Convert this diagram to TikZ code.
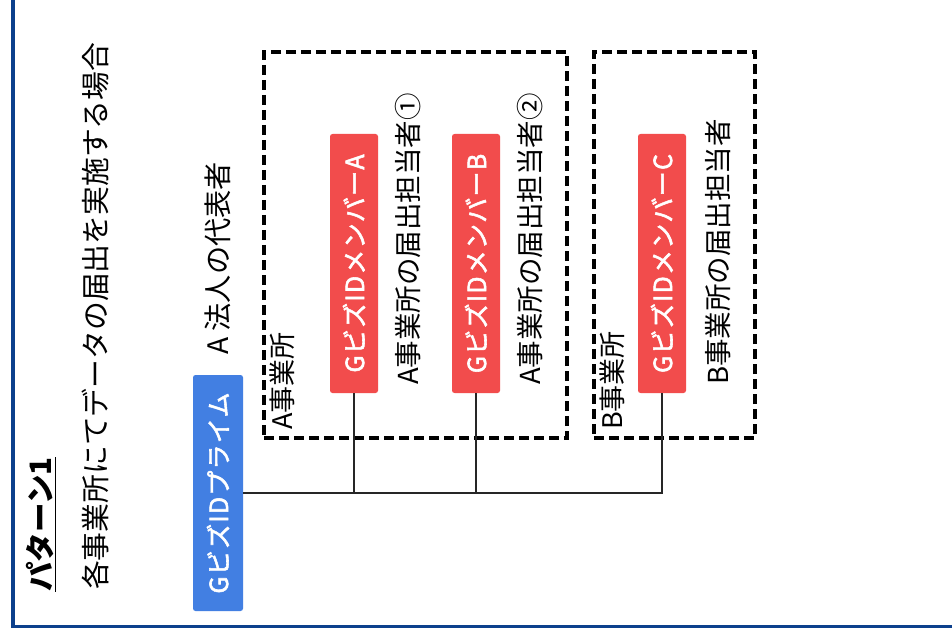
\documentclass[tikz,border=0pt]{standalone}
\usepackage{fontspec}
\setmainfont{Noto Sans CJK JP}
\newfontfamily\boxfont[FakeBold=2.2,LetterSpace=5]{Noto Sans CJK JP}
\definecolor{frameblue}{RGB}{12,64,140}
\definecolor{primeblue}{RGB}{66,127,226}
\definecolor{memberred}{RGB}{242,76,76}
\tikzset{
  lbl/.style={rotate=90, anchor=west, inner sep=0pt, font=\fontsize{27.5}{30}\selectfont},
  grouplbl/.style={rotate=90, anchor=west, inner sep=0pt, font=\fontsize{27}{29}\selectfont},
  idbox/.style={rotate=90, rounded corners=2.5pt, inner sep=0pt, text=white,
     font=\boxfont\fontsize{25}{27}\selectfont},
  primebox/.style={idbox, fill=primeblue, minimum width=236pt, minimum height=50pt},
  memberbox/.style={idbox, fill=memberred, minimum width=259pt, minimum height=48pt},
  groupbox/.style={draw=black, line width=3.2pt, dash pattern=on 10pt off 5pt, inner sep=0pt},
  wire/.style={draw=black!85, line width=1.3pt}
}
\begin{document}
\begin{tikzpicture}[x=1pt,y=-1pt]
\useasboundingbox (0,0) rectangle (952,636);
\fill[white] (0,0) rectangle (952,636);
\draw[frameblue, line width=3.5pt] (13,0) -- (13,626.5) -- (952,626.5);

% titles
\node[rotate=90, anchor=west, inner sep=0pt, font=\bfseries\fontsize{29.5}{32}\selectfont] (title) at (41,592) {\underline{パターン1}};
\node[lbl, font=\fontsize{28.8}{31}\selectfont] (subtitle) at (95,590) {各事業所にてデータの届出を実施する場合};
\node[lbl, font=\fontsize{28.2}{31}\selectfont] (rep) at (218,355) {A 法人の代表者};

% group boxes
\node[groupbox, minimum width=303pt, minimum height=386pt] (officeA) at (415.5,245) {};
\node[groupbox, minimum width=161pt, minimum height=386pt] (officeB) at (674.5,245) {};
\node[grouplbl] (officeAlbl) at (282,430) {A事業所};
\node[grouplbl] (officeBlbl) at (612,430) {B事業所};

% id boxes
\node[primebox] (prime) at (218,493) {GビズIDプライム};
\node[memberbox] (mA) at (354,263.5) {GビズIDメンバーA};
\node[memberbox] (mB) at (476,263.5) {GビズIDメンバーB};
\node[memberbox] (mC) at (662,263.5) {GビズIDメンバーC};

% person labels
\node[lbl] (pA) at (408,385) {A事業所の届出担当者①};
\node[lbl] (pB) at (530,385) {A事業所の届出担当者②};
\node[lbl] (pC) at (718,385) {B事業所の届出担当者};

% connectors
\draw[wire] (prime.south) -- (mC.west |- prime.south) -- (mC.west);
\draw[wire] (mA.west) -- (mA.west |- prime.south);
\draw[wire] (mB.west) -- (mB.west |- prime.south);
\end{tikzpicture}
\end{document}
